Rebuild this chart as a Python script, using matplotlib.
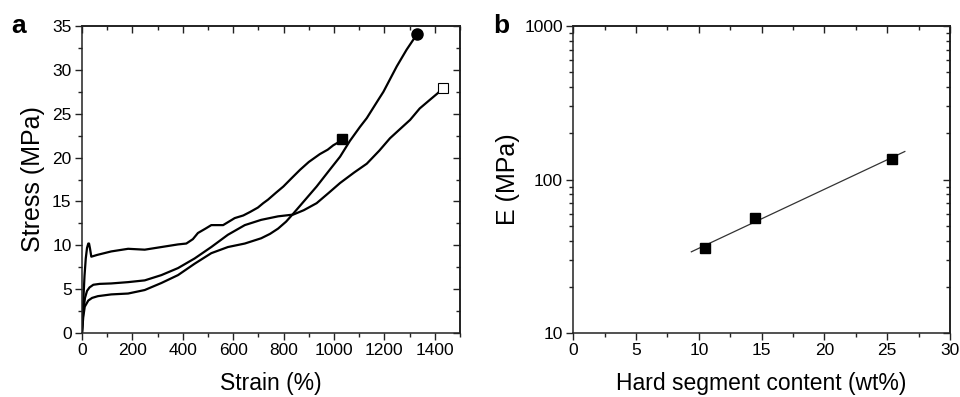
import numpy as np
import matplotlib
matplotlib.use("Agg")
import matplotlib.pyplot as plt
from matplotlib.ticker import MultipleLocator, LogLocator, FixedLocator, FuncFormatter, NullFormatter

plt.rcParams['font.family'] = ['Liberation Sans', 'DejaVu Sans']

# ---- Panel a data: stress-strain curves ----
strain_a = [0, 5, 10, 15, 20, 25, 28, 32, 37, 60, 116, 183, 249, 315, 381, 414, 440, 460, 490, 513,
            560, 606, 640, 667, 698, 719, 738, 770, 799, 830, 865, 900, 944, 975, 997, 1015, 1033]
stress_a = [0, 3.5, 6.5, 8.5, 9.7, 10.2, 10.2, 9.6, 8.7, 8.9, 9.3, 9.6, 9.5, 9.8, 10.1, 10.2, 10.7, 11.4, 11.9, 12.3,
            12.3, 13.1, 13.4, 13.8, 14.3, 14.8, 15.2, 16.0, 16.7, 17.6, 18.6, 19.5, 20.4, 20.9, 21.4, 21.7, 22.1]

strain_b = [0, 5, 11, 25, 40, 63, 116, 183, 249, 315, 381, 447, 513, 579, 646, 711, 746, 778, 810, 838,
            880, 931, 980, 1024, 1063, 1103, 1130, 1176, 1196, 1249, 1288, 1330]
stress_b = [0, 1.8, 3.0, 3.7, 4.0, 4.2, 4.4, 4.5, 4.9, 5.7, 6.6, 7.9, 9.1, 9.8, 10.2, 10.8, 11.3, 11.9, 12.7, 13.6,
            15.0, 16.7, 18.5, 20.1, 21.9, 23.5, 24.5, 26.6, 27.5, 30.4, 32.3, 34.1]

strain_c = [0, 5, 12, 20, 30, 45, 70, 116, 183, 249, 315, 381, 447, 513, 579, 646, 711, 778, 838, 880,
            931, 980, 1024, 1080, 1130, 1180, 1222, 1260, 1302, 1340, 1381, 1410, 1431]
stress_c = [0, 2.5, 4.0, 4.8, 5.2, 5.5, 5.6, 5.65, 5.8, 6.0, 6.6, 7.4, 8.5, 9.8, 11.2, 12.3, 12.9, 13.3, 13.5, 14.0,
            14.8, 16.0, 17.1, 18.3, 19.3, 20.8, 22.2, 23.2, 24.3, 25.6, 26.6, 27.3, 27.9]

# ---- Panel b data: modulus vs hard segment ----
hard_seg = [10.5, 14.5, 25.4]
modulus = [35.6, 56.5, 137.0]
modulus_err = [1.0, 3.5, 3.0]
fit_range = [9.4, 26.4]

fig = plt.figure(figsize=(9.6, 3.97), dpi=100)
ax1 = fig.add_axes([0.0854, 0.1612, 0.3938, 0.7733])
ax2 = fig.add_axes([0.5972, 0.1612, 0.3924, 0.7733])

lw = 1.6
ax1.plot(strain_a, stress_a, color='black', lw=lw)
ax1.plot(strain_b, stress_b, color='black', lw=lw)
ax1.plot(strain_c, stress_c, color='black', lw=lw)
ax1.plot(strain_a[-1], stress_a[-1], 's', color='black', ms=7.5)
ax1.plot(strain_b[-1], stress_b[-1], 'o', color='black', ms=8)
ax1.plot(strain_c[-1], stress_c[-1], 's', mfc='white', mec='black', mew=0.8, ms=6.5)

ax1.set_xlim(0, 1500)
ax1.set_ylim(0, 35)
ax1.xaxis.set_major_locator(FixedLocator(np.arange(0, 1401, 200)))
ax1.xaxis.set_minor_locator(MultipleLocator(100))
ax1.yaxis.set_major_locator(MultipleLocator(5))
ax1.yaxis.set_minor_locator(MultipleLocator(2.5))
ax1.set_xlabel('Strain (%)', fontsize=16.5, labelpad=10)
ax1.set_ylabel('Stress (MPa)', fontsize=18, labelpad=5)

# Panel b
ax2.set_yscale('log')
coef = np.polyfit(hard_seg, np.log10(modulus), 1)
xf = np.array(fit_range)
ax2.plot(xf, 10 ** np.polyval(coef, xf), color='#333333', lw=0.9)
ax2.errorbar(hard_seg, modulus, yerr=modulus_err, fmt='s', color='black', ms=7, capsize=3.5, elinewidth=1, capthick=1)
ax2.set_xlim(0, 30)
ax2.set_ylim(10, 1000)
ax2.xaxis.set_major_locator(MultipleLocator(5))
ax2.xaxis.set_minor_locator(MultipleLocator(2.5))
ax2.yaxis.set_major_locator(FixedLocator([10, 100, 1000]))
ax2.yaxis.set_major_formatter(FuncFormatter(lambda v, p: f'{v:g}'))
ax2.yaxis.set_minor_locator(LogLocator(base=10, subs=np.arange(2, 10)))
ax2.yaxis.set_minor_formatter(NullFormatter())
ax2.set_xlabel('Hard segment content (wt%)', fontsize=16.5, labelpad=10)
ax2.set_ylabel('E (MPa)', fontsize=18, labelpad=3)

for ax in (ax1, ax2):
    for s in ax.spines.values():
        s.set_linewidth(1.1)
        s.set_color('#222222')
    ax.tick_params(which='both', direction='out', labelsize=12.5, width=1.0, color='#222222', pad=2.5)
    ax.tick_params(which='major', length=5)
    ax.tick_params(which='minor', length=3)
    # mirrored ticks pointing inward
    sx = ax.secondary_xaxis('top')
    sx.set_xticks(ax.get_xticks())
    sx.xaxis.set_minor_locator(ax.xaxis.get_minor_locator())
    sx.tick_params(which='both', direction='in', labeltop=False, width=1.0, color='#222222')
    sx.tick_params(which='major', length=5)
    sx.tick_params(which='minor', length=3)
    sx.spines['top'].set_linewidth(1.1)
    sy = ax.secondary_yaxis('right')
    sy.yaxis.set_major_locator(ax.yaxis.get_major_locator())
    sy.yaxis.set_minor_locator(ax.yaxis.get_minor_locator())
    sy.tick_params(which='both', direction='in', labelright=False, width=1.0, color='#222222')
    sy.tick_params(which='major', length=5)
    sy.tick_params(which='minor', length=3)
    sy.spines['right'].set_linewidth(1.1)

fig.text(0.0115, 0.917, 'a', fontsize=19, fontweight='bold', va='baseline', ha='left')
fig.text(0.5135, 0.917, 'b', fontsize=19, fontweight='bold', va='baseline', ha='left')

fig.savefig('out.png', dpi=100)
